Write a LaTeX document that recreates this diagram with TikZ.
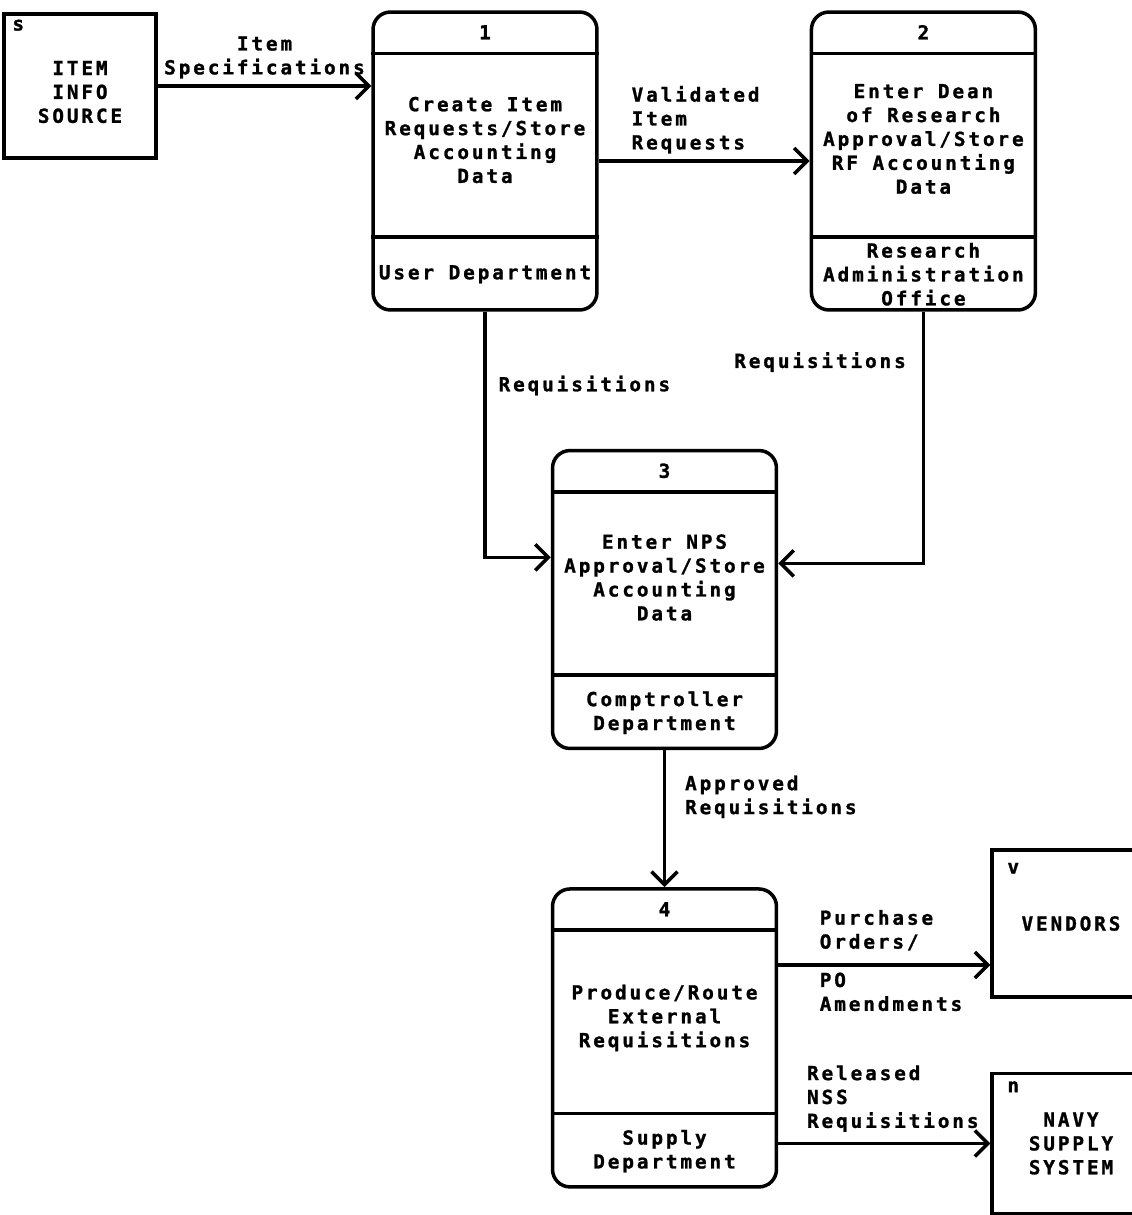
\documentclass[tikz,border=0pt]{standalone}
\usepackage{fontspec}
\usepackage{tikz}
\usetikzlibrary{positioning, arrows.meta, calc}
\newfontfamily\dfdfont[LetterSpace=15, BoldFeatures={FakeBold=1.2}]{DejaVu Sans Mono}
\tikzset{
    every node/.append style={font=\dfdfont\bfseries\fontsize{11}{13.6}\selectfont},
    proc/.style={draw, line width=2pt, rounded corners=0.35cm, minimum width=4.48cm, minimum height=5.96cm},
    ext/.style={draw, line width=2pt, align=center},
    txt/.style={align=center, inner sep=0pt},
    lbl/.style={align=left},
    sep/.style={line width=2pt},
    flow/.style={line width=2pt, -{Straight Barb[length=0.26cm, width=0.52cm]}},
}
\begin{document}
\begin{tikzpicture}[x=0.02cm, y=-0.02cm]
    \useasboundingbox (0,0) rectangle (1132,1215);

    \node[ext, minimum width=3.04cm, minimum height=2.88cm] (src) at (80,86) {};
    \node[txt] (srct) at ([yshift=-0.12cm]src.center) {ITEM\\INFO\\SOURCE};
    \node[txt] (srcl) at ([shift={(16,13)}]src.north west) {s};

    \node[proc] (p1) at (485,161) {};
    \node[proc, right=4.22cm of p1] (p2) {};
    \node[proc] (p3) at (664.5,599.5) {};
    \node[proc, below=2.74cm of p3] (p4) {};

    \foreach \p in {p1,p2,p3,p4} {
      \draw[sep] ([yshift=-0.86cm]\p.north west) -- ([yshift=-0.86cm]\p.north east);
      \draw[sep] ([yshift=1.5cm]\p.south west) -- ([yshift=1.5cm]\p.south east);
    }

    \node[txt] (p1n) at ([yshift=-0.44cm]p1.north) {1};
    \node[txt] (p1t) at ([yshift=0.42cm]p1.center) {Create Item\\Requests/Store\\Accounting\\Data};
    \node[txt] (p1d) at ([yshift=0.75cm]p1.south) {User Department};

    \node[txt] (p2n) at ([yshift=-0.44cm]p2.north) {2};
    \node[txt] (p2t) at ([yshift=0.44cm]p2.center) {Enter Dean\\of Research\\Approval/Store\\RF Accounting\\Data};
    \node[txt] (p2d) at ([yshift=0.75cm]p2.south) {Research\\Administration\\Office};

    \node[txt] (p3n) at ([yshift=-0.44cm]p3.north) {3};
    \node[txt] (p3t) at ([yshift=0.44cm]p3.center) {Enter NPS\\Approval/Store\\Accounting\\Data};
    \node[txt] (p3d) at ([yshift=0.75cm]p3.south) {Comptroller\\Department};

    \node[txt] (p4n) at ([yshift=-0.44cm]p4.north) {4};
    \node[txt] (p4t) at ([yshift=0.4cm]p4.center) {Produce/Route\\External\\Requisitions};
    \node[txt] (p4d) at ([yshift=0.75cm]p4.south) {Supply\\Department};

    \node[ext, minimum width=3.16cm, minimum height=2.94cm] (vend) at (1071,923.5) {VENDORS};
    \node[txt] (vendl) at ([shift={(23,20)}]vend.north west) {v};
    \node[ext, minimum width=3.16cm, minimum height=2.8cm, below=1.46cm of vend] (navy) {NAVY\\SUPPLY\\SYSTEM};
    \node[txt] (navyl) at ([shift={(23,15)}]navy.north west) {n};

    \coordinate (vin) at ([yshift=-0.83cm]vend.west);

    \draw[flow] (src.east) -- (src.east -| p1.west)
      node[midway, above, align=center] {Item\\Specifications};
    \draw[flow] (p1.east) -- (p2.west)
      node[pos=0.12, anchor=south west, lbl] {Validated\\Item\\Requests};
    \draw[flow] (p1.south) |- ($(p3.north west)!0.36!(p3.south west)$)
      node[pos=0.15, anchor=west, xshift=0.12cm] {Requisitions};
    \draw[flow] (p2.south) |- ($(p3.north east)!0.38!(p3.south east)$)
      node[pos=0.1, anchor=east, xshift=-0.2cm] {Requisitions};
    \draw[flow] (p3.south) -- (p4.north)
      node[pos=0.34, anchor=west, lbl, xshift=0.26cm] {Approved\\Requisitions};
    \draw[flow] (p4.east |- vin) -- (vin)
      node[pos=0.16, anchor=south west, lbl, yshift=0.14cm] {Purchase\\Orders/}
      node[pos=0.16, anchor=north west, lbl] {PO\\Amendments};
    \draw[flow] (p4.east |- navy.west) -- (navy.west)
      node[pos=0.1, anchor=south west, lbl, yshift=0.08cm] {Released\\NSS\\Requisitions};
\end{tikzpicture}
\end{document}
